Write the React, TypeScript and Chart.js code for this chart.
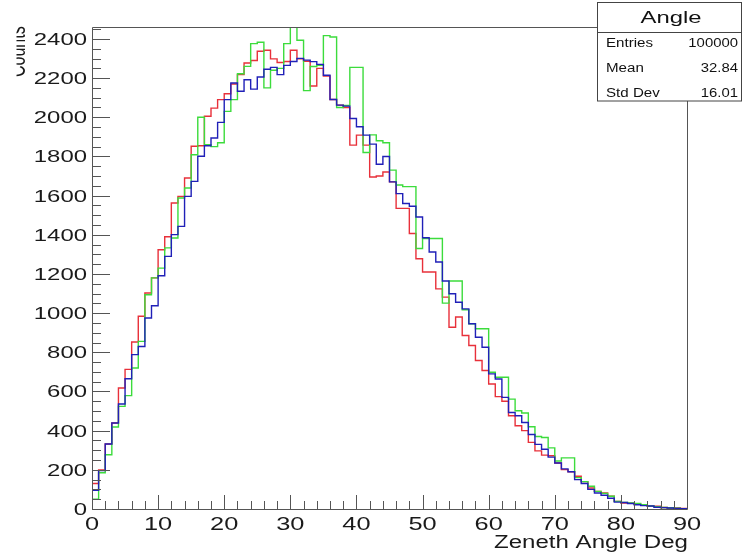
import React, { useEffect, useRef } from "react";
import { Chart, registerables } from "chart.js";

Chart.register(...registerables);

// ---- data ----
const binStart = 0;
const binWidth = 1;
const xTickValues = [0, 10, 20, 30, 40, 50, 60, 70, 80, 90];
const xTickLabels = ["0", "10", "20", "30", "40", "50", "60", "70", "80", "90"];
const yTickValues = [0, 200, 400, 600, 800, 1000, 1200, 1400, 1600, 1800, 2000, 2200, 2400];
const yTickLabels = ["0", "200", "400", "600", "800", "1000", "1200", "1400", "1600", "1800", "2000", "2200", "2400"];
const xMin = 0;
const xMax = 90;
const yMax = 2461;

const redCounts = [
  130, 200, 332, 439, 618, 713, 853, 984, 1103, 1180,
  1324, 1390, 1562, 1596, 1690, 1852, 1855, 2005, 2047, 2090,
  2120, 2170, 2218, 2277, 2290, 2337, 2342, 2298, 2280, 2285,
  2342, 2298, 2286, 2160, 2250, 2211, 2091, 2062, 2050, 1858,
  1909, 1858, 1695, 1700, 1721, 1670, 1535, 1535, 1407, 1278,
  1210, 1210, 1124, 1082, 928, 980, 886, 835, 758, 707,
  638, 574, 550, 476, 425, 400, 340, 297, 275, 272,
  235, 201, 190, 167, 140, 107, 90, 82, 65, 39,
  31, 30, 25, 20, 14, 14, 8, 5, 5, 3,
];

const greenCounts = [
  50, 185, 277, 419, 524, 579, 720, 856, 1094, 1180,
  1230, 1333, 1384, 1588, 1639, 1809, 2000, 1860, 1850, 1870,
  2030, 2090, 2222, 2260, 2376, 2383, 2150, 2240, 2250, 2376,
  2470, 2393, 2136, 2259, 2265, 2417, 2410, 2050, 2060, 2255,
  2255, 1820, 1910, 1880, 1870, 1730, 1654, 1646, 1646, 1330,
  1381, 1381, 1381, 1051, 1164, 1164, 1017, 946, 920, 920,
  698, 673, 673, 561, 502, 490, 420, 370, 365, 312,
  245, 261, 261, 160, 140, 116, 90, 80, 65, 39,
  34, 31, 28, 22, 15, 12, 8, 6, 4, 2,
];

const blueCounts = [
  95, 196, 332, 439, 536, 665, 788, 830, 975, 1038,
  1191, 1290, 1401, 1443, 1596, 1673, 1801, 1855, 1894, 1974,
  2090, 2175, 2133, 2192, 2144, 2206, 2245, 2255, 2218, 2265,
  2285, 2301, 2292, 2284, 2270, 2215, 2091, 2062, 2057, 1994,
  1952, 1909, 1863, 1760, 1800, 1670, 1610, 1560, 1546, 1491,
  1385, 1312, 1261, 1164, 1099, 1056, 1022, 946, 877, 826,
  690, 664, 570, 493, 476, 442, 380, 330, 305, 265,
  235, 205, 190, 150, 130, 100, 82, 70, 55, 35,
  33, 28, 22, 17, 15, 9, 7, 5, 3, 2,
];

const statsTitle = "Angle";
const statsLabels = ["Entries", "Mean", "Std Dev"];
const statsValues = ["100000", "32.84", "16.01"];
const xTitle = "Zeneth Angle Deg";
const yTitle = "Counts";

// ---- helpers ----
function toSteps(counts: number[]) {
  const pts = counts.map((v, i) => ({ x: binStart + i * binWidth, y: v }));
  pts.push({ x: binStart + counts.length * binWidth, y: counts[counts.length - 1] });
  return pts;
}

function stretchText(
  ctx: CanvasRenderingContext2D,
  text: string,
  x: number,
  y: number,
  align: CanvasTextAlign,
  sx: number
) {
  ctx.save();
  ctx.translate(x, y);
  ctx.scale(sx, 1);
  ctx.textAlign = align;
  ctx.textBaseline = "alphabetic";
  ctx.fillText(text, 0, 0);
  ctx.restore();
}

function fitText(
  ctx: CanvasRenderingContext2D,
  text: string,
  x: number,
  y: number,
  align: CanvasTextAlign,
  targetWidth: number
) {
  const w = ctx.measureText(text).width;
  stretchText(ctx, text, x, y, align, targetWidth / w);
}

const FONT = '"Liberation Sans", Arial, Helvetica, sans-serif';

const rootStylePlugin = {
  id: "rootStyle",
  afterDraw(chart: any) {
    const ctx: CanvasRenderingContext2D = chart.ctx;
    const { left, right, top, bottom } = chart.chartArea;
    const xs = chart.scales.x;
    const ys = chart.scales.y;
    ctx.save();

    // frame
    ctx.strokeStyle = "#555";
    ctx.lineWidth = 1;
    ctx.beginPath();
    ctx.moveTo(Math.round(left) + 0.5, Math.round(bottom) + 0.5);
    ctx.lineTo(Math.round(left) + 0.5, Math.round(top) + 0.5);
    ctx.lineTo(Math.round(right) + 0.5, Math.round(top) + 0.5);
    ctx.lineTo(Math.round(right) + 0.5, Math.round(bottom) + 0.5);
    ctx.lineTo(Math.round(left) + 0.5, Math.round(bottom) + 0.5);
    ctx.stroke();

    // y ticks (inside)
    ctx.strokeStyle = "#555";
    ctx.beginPath();
    const ySub = 4;
    for (let k = 0; k < yTickValues.length; k++) {
      const v = yTickValues[k];
      const py = Math.round(ys.getPixelForValue(v)) + 0.5;
      ctx.moveTo(left, py);
      ctx.lineTo(left + 18, py);
      const step = k + 1 < yTickValues.length ? yTickValues[k + 1] - v : yTickValues[1] - yTickValues[0];
      for (let s = 1; s < ySub; s++) {
        const mv = v + (step * s) / ySub;
        if (mv > yMax) break;
        const my = Math.round(ys.getPixelForValue(mv)) + 0.5;
        ctx.moveTo(left, my);
        ctx.lineTo(left + 9, my);
      }
    }
    // x ticks (inside)
    const xSub = 5;
    for (let k = 0; k < xTickValues.length; k++) {
      const v = xTickValues[k];
      const px = Math.round(xs.getPixelForValue(v)) + 0.5;
      ctx.moveTo(px, bottom);
      ctx.lineTo(px, bottom - 14);
      if (k + 1 < xTickValues.length) {
        const step = xTickValues[k + 1] - v;
        for (let s = 1; s < xSub; s++) {
          const mx = Math.round(xs.getPixelForValue(v + (step * s) / xSub)) + 0.5;
          ctx.moveTo(mx, bottom);
          ctx.lineTo(mx, bottom - 8);
        }
      }
    }
    ctx.stroke();

    // tick labels
    ctx.fillStyle = "#1a1a1a";
    ctx.font = `16.5px ${FONT}`;
    yTickValues.forEach((v, k) => {
      const py = ys.getPixelForValue(v);
      stretchText(ctx, yTickLabels[k], left - 5, py + 6, "right", 1.45);
    });
    ctx.font = `17.5px ${FONT}`;
    xTickValues.forEach((v, k) => {
      const px = xs.getPixelForValue(v);
      stretchText(ctx, xTickLabels[k], px, bottom + 21, "center", 1.45);
    });

    // x title
    ctx.font = `17.5px ${FONT}`;
    fitText(ctx, xTitle, right + 1, 548, "right", 194);

    // y title (rotated, clipped at the left like the reference)
    ctx.save();
    ctx.beginPath();
    ctx.rect(16.5, 0, 60, 200);
    ctx.clip();
    ctx.translate(25, 77);
    ctx.rotate(-Math.PI / 2);
    ctx.scale(1, 1.45);
    ctx.font = `16px ${FONT}`;
    ctx.textAlign = "left";
    ctx.textBaseline = "alphabetic";
    ctx.fillText(yTitle, 0, 0);
    ctx.restore();

    // stats box
    const bx = 597.5, by = 2.5, bw = 144, bh = 98.5;
    ctx.fillStyle = "#ffffff";
    ctx.fillRect(bx, by, bw, bh);
    ctx.strokeStyle = "#444";
    ctx.lineWidth = 1;
    ctx.strokeRect(bx, by, bw, bh);
    ctx.beginPath();
    ctx.moveTo(bx, 32.5);
    ctx.lineTo(bx + bw, 32.5);
    ctx.stroke();

    ctx.fillStyle = "#111";
    ctx.font = `16.5px ${FONT}`;
    fitText(ctx, statsTitle, 671, 23, "center", 61);
    ctx.font = `12px ${FONT}`;
    const rowBase = [47, 72, 96.5];
    statsLabels.forEach((lab, i) => {
      stretchText(ctx, lab, 606, rowBase[i], "left", 1.26);
      stretchText(ctx, statsValues[i], 738, rowBase[i], "right", 1.24);
    });

    ctx.restore();
  },
};

export default function App() {
  const canvasRef = useRef<HTMLCanvasElement | null>(null);

  useEffect(() => {
    const canvas = canvasRef.current;
    if (!canvas) return;
    const chart = new Chart(canvas, {
      type: "line",
      data: {
        datasets: [
          {
            label: "blue",
            data: toSteps(blueCounts),
            borderColor: "#2020b8",
            borderWidth: 1.4,
            stepped: true,
            pointRadius: 0,
            fill: false,
            order: 0,
          },
          {
            label: "green",
            data: toSteps(greenCounts),
            borderColor: "#3cdc3c",
            borderWidth: 1.4,
            stepped: true,
            pointRadius: 0,
            fill: false,
            order: 1,
          },
          {
            label: "red",
            data: toSteps(redCounts),
            borderColor: "#e8303a",
            borderWidth: 1.4,
            stepped: true,
            pointRadius: 0,
            fill: false,
            order: 2,
          },
        ],
      },
      options: {
        responsive: false,
        animation: false,
        devicePixelRatio: 1,
        parsing: true,
        layout: { padding: { left: 92, top: 27, right: 59, bottom: 44 } },
        plugins: {
          legend: { display: false },
          tooltip: { enabled: false },
          title: { display: false },
        },
        scales: {
          x: { type: "linear", min: xMin, max: xMax, display: false },
          y: { type: "linear", min: 0, max: yMax, display: false },
        },
      },
      plugins: [rootStylePlugin],
    } as any);
    return () => chart.destroy();
  }, []);

  return (
    <div style={{ position: "absolute", left: 0, top: 0, width: 746, height: 553, background: "#fff" }}>
      <canvas ref={canvasRef} width={746} height={553} style={{ display: "block" }} />
    </div>
  );
}
